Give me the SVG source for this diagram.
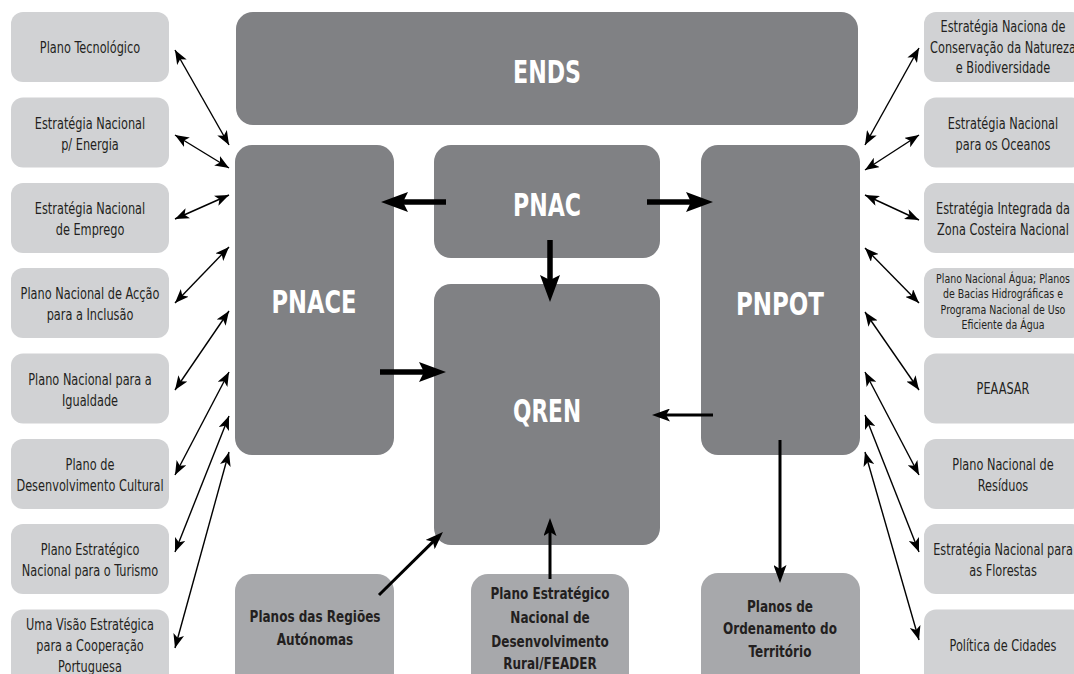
<svg xmlns="http://www.w3.org/2000/svg" width="1074" height="674" viewBox="0 0 1074 674">
<style>
.dark{fill:#808184}
.light{fill:#d1d2d4}
.mid{fill:#a7a8ab}
.t{font-family:"Liberation Sans Narrow","DejaVu Sans Condensed","Liberation Sans",sans-serif;font-size:15px;fill:#231f20;text-anchor:middle}
.ts{font-size:12.5px}
.tb{font-family:"Liberation Sans Narrow","DejaVu Sans Condensed","Liberation Sans",sans-serif;font-size:16.5px;font-weight:bold;fill:#231f20;text-anchor:middle}
.big{font-family:"Liberation Sans Narrow","DejaVu Sans Condensed","Liberation Sans",sans-serif;font-size:32px;font-weight:bold;fill:#ffffff;text-anchor:middle}
.thin{stroke:#000;stroke-width:1.4;fill:none;marker-start:url(#ah);marker-end:url(#ah)}
.thick{stroke:#000;stroke-width:5.5;fill:none;marker-end:url(#ahThick)}
.med{stroke:#000;stroke-width:3;fill:none;marker-end:url(#ahMed)}
</style>
<defs>
<marker id="ah" markerUnits="userSpaceOnUse" markerWidth="14" markerHeight="11" viewBox="0 0 14 11" refX="14" refY="5.5" orient="auto-start-reverse">
<path d="M0,0 L14,5.5 L0,11 L3.5,5.5 z" fill="#000"/>
</marker>
<marker id="ahThick" markerUnits="userSpaceOnUse" markerWidth="27" markerHeight="20" viewBox="0 0 27 20" refX="8" refY="10" orient="auto">
<path d="M0,0 L27,10 L0,20 L5,10 z" fill="#000"/>
</marker>
<marker id="ahMed" markerUnits="userSpaceOnUse" markerWidth="18" markerHeight="13" viewBox="0 0 18 13" refX="6" refY="6.5" orient="auto">
<path d="M0,0 L18,6.5 L0,13 L4,6.5 z" fill="#000"/>
</marker>
</defs>
<rect width="1074" height="674" fill="#ffffff"/>

<g id="ENDS"><rect class="dark" x="236" y="12" width="622" height="113" rx="17"/><text class="big" x="547" y="83" textLength="68" lengthAdjust="spacingAndGlyphs">ENDS</text></g>
<g id="PNACE"><rect class="dark" x="235" y="145" width="159" height="310" rx="17"/><text class="big" x="314" y="313" textLength="85" lengthAdjust="spacingAndGlyphs">PNACE</text></g>
<g id="PNAC"><rect class="dark" x="434" y="145" width="226" height="113" rx="17"/><text class="big" x="547" y="216" textLength="68" lengthAdjust="spacingAndGlyphs">PNAC</text></g>
<g id="QREN"><rect class="dark" x="434" y="284" width="226" height="261" rx="17"/><text class="big" x="547" y="422" textLength="68" lengthAdjust="spacingAndGlyphs">QREN</text></g>
<g id="PNPOT"><rect class="dark" x="701" y="145" width="159" height="310" rx="17"/><text class="big" x="780" y="315" textLength="88" lengthAdjust="spacingAndGlyphs">PNPOT</text></g>

<g id="RegioesAutonomas"><rect class="mid" x="235" y="574" width="159" height="120" rx="17"/><g transform="translate(315 0) scale(0.81 1)"><text class="tb" x="0" y="622">Planos das Regiões</text><text class="tb" x="0" y="645">Autónomas</text></g></g>
<g id="PEN_FEADER"><rect class="mid" x="471" y="574" width="158" height="120" rx="17"/><g transform="translate(550 0) scale(0.81 1)"><text class="tb" x="0" y="599">Plano Estratégico</text><text class="tb" x="0" y="623">Nacional de</text><text class="tb" x="0" y="647">Desenvolvimento</text><text class="tb" x="0" y="669">Rural/FEADER</text></g></g>
<g id="OrdenamentoTerritorio"><rect class="mid" x="701" y="573" width="159" height="120" rx="17"/><g transform="translate(780 0) scale(0.81 1)"><text class="tb" x="0" y="612">Planos de</text><text class="tb" x="0" y="634">Ordenamento do</text><text class="tb" x="0" y="657">Território</text></g></g>

<g id="PlanoTecnologico"><rect class="light" x="11" y="12" width="158" height="70" rx="12"/><g transform="translate(90 0) scale(0.84 1)"><text class="t" x="0" y="53">Plano Tecnológico</text></g></g>
<g id="ENEnergia"><rect class="light" x="11" y="97.5" width="158" height="70" rx="12"/><g transform="translate(90 0) scale(0.84 1)"><text class="t" x="0" y="129">Estratégia Nacional</text><text class="t" x="0" y="150">p/ Energia</text></g></g>
<g id="ENEmprego"><rect class="light" x="11" y="183" width="158" height="70" rx="12"/><g transform="translate(90 0) scale(0.84 1)"><text class="t" x="0" y="214">Estratégia Nacional</text><text class="t" x="0" y="235">de Emprego</text></g></g>
<g id="PNAInclusao"><rect class="light" x="11" y="268" width="158" height="70" rx="12"/><g transform="translate(90 0) scale(0.84 1)"><text class="t" x="0" y="299">Plano Nacional de Acção</text><text class="t" x="0" y="320">para a Inclusão</text></g></g>
<g id="PNIgualdade"><rect class="light" x="11" y="353.5" width="158" height="70" rx="12"/><g transform="translate(90 0) scale(0.84 1)"><text class="t" x="0" y="385">Plano Nacional para a</text><text class="t" x="0" y="406">Igualdade</text></g></g>
<g id="PDCultural"><rect class="light" x="11" y="439" width="158" height="70" rx="12"/><g transform="translate(90 0) scale(0.84 1)"><text class="t" x="0" y="470">Plano de</text><text class="t" x="0" y="491">Desenvolvimento Cultural</text></g></g>
<g id="PENTurismo"><rect class="light" x="11" y="524" width="158" height="70" rx="12"/><g transform="translate(90 0) scale(0.84 1)"><text class="t" x="0" y="555">Plano Estratégico</text><text class="t" x="0" y="576">Nacional para o Turismo</text></g></g>
<g id="Cooperacao"><rect class="light" x="11" y="609.5" width="158" height="80" rx="12"/><g transform="translate(90 0) scale(0.84 1)"><text class="t" x="0" y="630">Uma Visão Estratégica</text><text class="t" x="0" y="651">para a Cooperação</text><text class="t" x="0" y="672">Portuguesa</text></g></g>

<g id="ENCNB"><rect class="light" x="924" y="12" width="160" height="70" rx="12"/><g transform="translate(1003 0) scale(0.84 1)"><text class="t" x="0" y="32">Estratégia Naciona de</text><text class="t" x="0" y="53">Conservação da Natureza</text><text class="t" x="0" y="73">e Biodiversidade</text></g></g>
<g id="ENOceanos"><rect class="light" x="924" y="97.5" width="160" height="70" rx="12"/><g transform="translate(1003 0) scale(0.84 1)"><text class="t" x="0" y="129">Estratégia Nacional</text><text class="t" x="0" y="150">para os Oceanos</text></g></g>
<g id="EIZC"><rect class="light" x="924" y="183" width="160" height="70" rx="12"/><g transform="translate(1003 0) scale(0.84 1)"><text class="t" x="0" y="214">Estratégia Integrada da</text><text class="t" x="0" y="235">Zona Costeira Nacional</text></g></g>
<g id="PNAgua"><rect class="light" x="924" y="268" width="160" height="70" rx="12"/><g transform="translate(1003 0) scale(0.84 1)"><text class="t ts" x="0" y="283">Plano Nacional Água; Planos</text><text class="t ts" x="0" y="298">de Bacias Hidrográficas e</text><text class="t ts" x="0" y="314">Programa Nacional de Uso</text><text class="t ts" x="0" y="329">Eficiente da Água</text></g></g>
<g id="PEAASAR"><rect class="light" x="924" y="353.5" width="160" height="70" rx="12"/><g transform="translate(1003 0) scale(0.84 1)"><text class="t" x="0" y="394">PEAASAR</text></g></g>
<g id="PNResiduos"><rect class="light" x="924" y="439" width="160" height="70" rx="12"/><g transform="translate(1003 0) scale(0.84 1)"><text class="t" x="0" y="470">Plano Nacional de</text><text class="t" x="0" y="491">Resíduos</text></g></g>
<g id="ENFlorestas"><rect class="light" x="924" y="524" width="160" height="70" rx="12"/><g transform="translate(1003 0) scale(0.84 1)"><text class="t" x="0" y="555">Estratégia Nacional para</text><text class="t" x="0" y="576">as Florestas</text></g></g>
<g id="PoliticaCidades"><rect class="light" x="924" y="609.5" width="160" height="80" rx="12"/><g transform="translate(1003 0) scale(0.84 1)"><text class="t" x="0" y="651">Política de Cidades</text></g></g>

<g id="connectors">
<line class="thin" x1="175" y1="50" x2="229" y2="145"/>
<line class="thin" x1="175" y1="135" x2="229" y2="168"/>
<line class="thin" x1="175" y1="219" x2="229" y2="195"/>
<line class="thin" x1="175" y1="303" x2="229" y2="247"/>
<line class="thin" x1="175" y1="390" x2="229" y2="311"/>
<line class="thin" x1="175" y1="475" x2="229" y2="372"/>
<line class="thin" x1="175" y1="552" x2="229" y2="416"/>
<line class="thin" x1="175" y1="648" x2="229" y2="452"/>
<line class="thin" x1="865" y1="145" x2="919" y2="48"/>
<line class="thin" x1="865" y1="170" x2="919" y2="135"/>
<line class="thin" x1="865" y1="195" x2="919" y2="220"/>
<line class="thin" x1="865" y1="248" x2="919" y2="303"/>
<line class="thin" x1="865" y1="312" x2="919" y2="390"/>
<line class="thin" x1="865" y1="372" x2="919" y2="475"/>
<line class="thin" x1="865" y1="415" x2="919" y2="552"/>
<line class="thin" x1="865" y1="452" x2="919" y2="640"/>
<line class="thick" x1="446" y1="202" x2="400" y2="202"/>
<line class="thick" x1="647" y1="202" x2="694" y2="202"/>
<line class="thick" x1="550" y1="240" x2="550" y2="283"/>
<line class="thick" x1="380" y1="372" x2="427" y2="372"/>
<line class="med" x1="713" y1="415" x2="664" y2="415"/>
<line class="med" x1="780" y1="440" x2="780" y2="571"/>
<line class="med" x1="379" y1="595" x2="434.4" y2="540.4"/>
<line class="med" x1="550" y1="579" x2="550" y2="530"/>
</g>
</svg>
